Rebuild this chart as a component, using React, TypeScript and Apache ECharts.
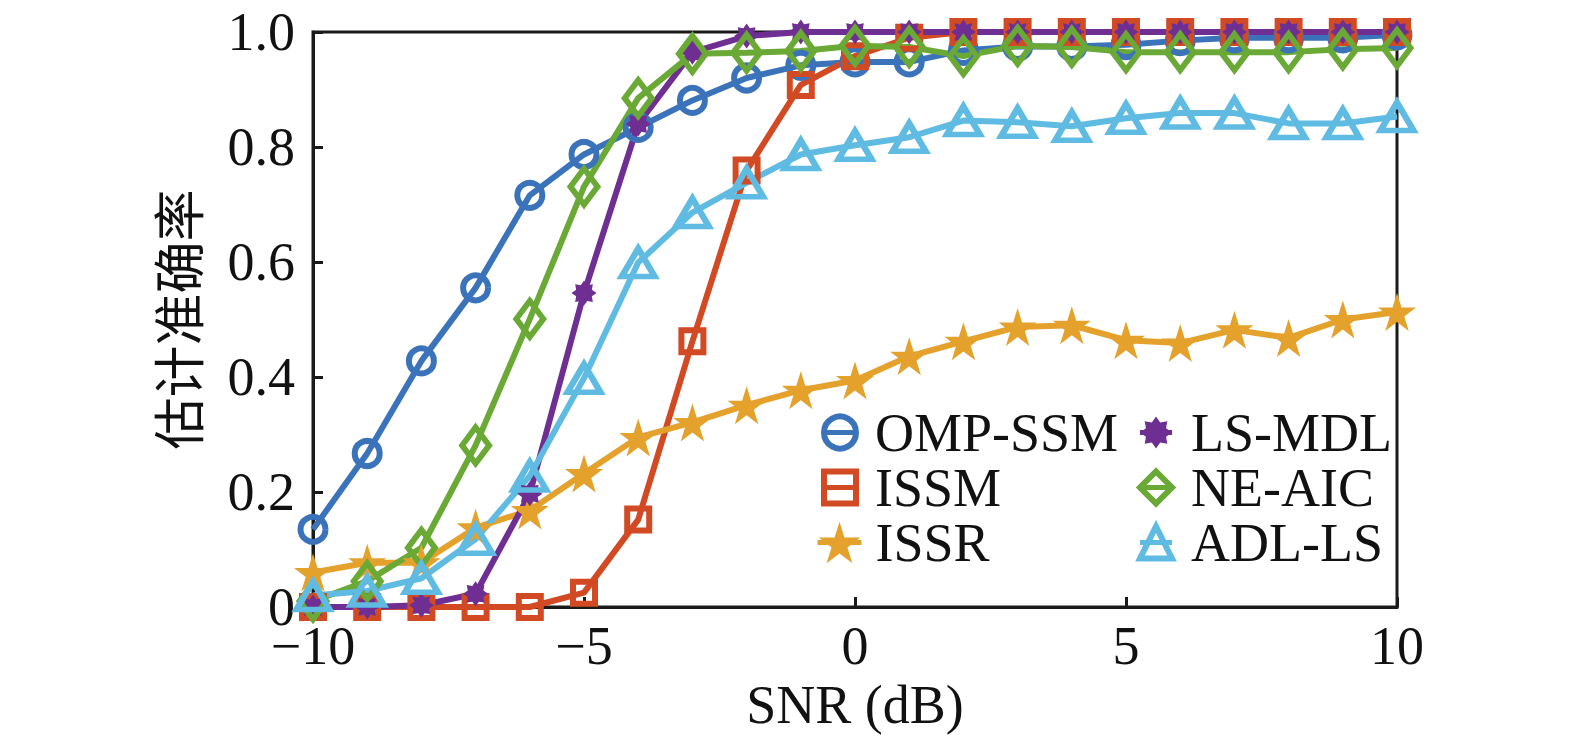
import React, { useEffect, useRef } from "react";
import * as echarts from "echarts";

const snr = [-10, -9, -8, -7, -6, -5, -4, -3, -2, -1, 0, 1, 2, 3, 4, 5, 6, 7, 8, 9, 10];
const ompSsm = [0.135, 0.267, 0.428, 0.555, 0.716, 0.787, 0.834, 0.881, 0.92, 0.942, 0.948, 0.948, 0.968, 0.975, 0.975, 0.978, 0.985, 0.99, 0.99, 0.99, 0.995];
const issm = [0, 0, 0, 0, 0, 0.025, 0.152, 0.462, 0.759, 0.908, 0.958, 0.99, 1, 1, 1, 1, 1, 1, 1, 1, 1];
const issr = [0.06, 0.077, 0.077, 0.138, 0.168, 0.232, 0.295, 0.321, 0.351, 0.377, 0.394, 0.436, 0.462, 0.487, 0.49, 0.464, 0.459, 0.482, 0.468, 0.5, 0.513];
const lsMdl = [0, 0, 0.003, 0.023, 0.197, 0.546, 0.84, 0.965, 0.993, 1, 1, 1, 1, 1, 1, 1, 1, 1, 1, 1, 1];
const neAic = [0.01, 0.045, 0.103, 0.281, 0.501, 0.731, 0.885, 0.962, 0.964, 0.967, 0.976, 0.974, 0.958, 0.976, 0.974, 0.965, 0.965, 0.965, 0.965, 0.97, 0.972];
const adlLs = [0.02, 0.028, 0.05, 0.118, 0.228, 0.398, 0.599, 0.686, 0.738, 0.787, 0.803, 0.817, 0.846, 0.843, 0.836, 0.85, 0.859, 0.859, 0.841, 0.841, 0.853];
const seriesNames = ["OMP-SSM", "ISSM", "ISSR", "LS-MDL", "NE-AIC", "ADL-LS"];
const xTicks = [-10, -5, 0, 5, 10];
const yTicks = [0, 0.2, 0.4, 0.6, 0.8, 1.0];

const FONT = "'Liberation Serif', 'Times New Roman', serif";

function polyPath(n: number, rOut: number, rIn: number, start: number) {
  const pts: string[] = [];
  for (let k = 0; k < n * 2; k++) {
    const r = k % 2 === 0 ? rOut : rIn;
    const a = ((start + (k * 180) / n) * Math.PI) / 180;
    pts.push((50 + r * Math.cos(a)).toFixed(2) + "," + (50 + r * Math.sin(a)).toFixed(2));
  }
  return "path://M" + pts.join(" L") + " Z";
}
const starPath = polyPath(5, 50, 19.1, -90);
const asteriskPath = polyPath(8, 50, 34, 0);
const filledSeries = ["ISSR", "LS-MDL"];

export default function App() {
  const ref = useRef<HTMLDivElement>(null);
  useEffect(() => {
    const chart = echarts.init(ref.current!, undefined, { renderer: "svg" });
    const mk = (
      name: string,
      values: number[],
      color: string,
      symbol: string,
      size: number | number[],
      filled: boolean
    ) => ({
      name,
      type: "line",
      data: snr.map((x, i) => [x, values[i]]),
      symbol,
      symbolSize: size,
      showAllSymbol: true,
      lineStyle: { color, width: 6 },
      itemStyle: filled
        ? { color, borderColor: color, borderWidth: 0 }
        : { color: "rgba(255,255,255,0)", borderColor: color, borderWidth: 6 },
      emphasis: { disabled: true },
      clip: false,
    });
    const legendData = (names: string[]) =>
      names.map((n) => ({
        name: n,
        itemStyle: { borderWidth: filledSeries.includes(n) ? 0 : 6 },
        lineStyle: { width: 5 },
      }));
    const legendCommon = {
      orient: "vertical",
      itemGap: 0,
      itemWidth: 32,
      itemHeight: 40,
      selectedMode: false,
      textStyle: { fontFamily: FONT, fontSize: 54, color: "#111", lineHeight: 55, padding: [0, 0, 0, 14] },
    };
    chart.setOption({
      animation: false,
      backgroundColor: "#fff",
      grid: { left: 313, top: 32, right: 178, bottom: 138, show: true, borderColor: "#1a1a1a", borderWidth: 3 },
      legend: [
        { ...legendCommon, data: legendData(seriesNames.slice(0, 2)), left: 816, top: 400 },
        {
          ...legendCommon,
          itemWidth: 44,
          itemHeight: 52,
          textStyle: { ...legendCommon.textStyle, padding: [0, 0, 0, 9] },
          data: legendData(seriesNames.slice(2, 3)),
          left: 810,
          top: 510,
        },
        { ...legendCommon, data: legendData(seriesNames.slice(3)), left: 1132, top: 400 },
      ],
      xAxis: {
        type: "value",
        min: -10,
        max: 10,
        interval: 5,
        name: "SNR (dB)",
        nameLocation: "middle",
        nameGap: 71,
        nameTextStyle: { fontFamily: FONT, fontSize: 54, color: "#111" },
        axisLine: { onZero: false, lineStyle: { color: "#1a1a1a", width: 3 } },
        axisTick: { inside: true, length: 10, lineStyle: { color: "#1a1a1a", width: 3 } },
        axisLabel: {
          margin: 20,
          lineHeight: 38,
          fontFamily: FONT,
          fontSize: 54,
          color: "#111",
          formatter: (v: number) => (xTicks.includes(v) ? (v < 0 ? "\u2212" + Math.abs(v) : String(v)) : ""),
        },
        splitLine: { show: false },
      },
      yAxis: {
        type: "value",
        min: 0,
        max: 1,
        interval: 0.2,
        name: "估计准确率",
        nameLocation: "middle",
        nameGap: 111,
        nameRotate: 90,
        nameTextStyle: { fontFamily: "'Noto Sans CJK SC', sans-serif", fontSize: 52, color: "#111" },
        axisLine: { onZero: false, lineStyle: { color: "#1a1a1a", width: 3 } },
        axisTick: { inside: true, length: 10, lineStyle: { color: "#1a1a1a", width: 3 } },
        axisLabel: {
          margin: 18,
          lineHeight: 38,
          fontFamily: FONT,
          fontSize: 54,
          color: "#111",
          formatter: (v: number) => {
            const t = yTicks.find((y) => Math.abs(y - v) < 1e-6);
            return t === undefined ? "" : t === 0 ? "0" : t.toFixed(1);
          },
        },
        splitLine: { show: false },
      },
      series: [
        mk(seriesNames[0], ompSsm, "#3b73bb", "circle", 25, false),
        mk(seriesNames[1], issm, "#d24a23", "rect", 22, false),
        mk(seriesNames[2], issr, "#e4a22c", starPath, 38, true),
        mk(seriesNames[3], lsMdl, "#6f2f92", asteriskPath, 25, true),
        mk(seriesNames[4], neAic, "#6aa935", "diamond", [27, 36], false),
        mk(seriesNames[5], adlLs, "#5fbbe2", "triangle", [33, 28], false),
      ],
    });
    return () => chart.dispose();
  }, []);
  return <div ref={ref} style={{ position: "absolute", left: 0, top: 0, width: 1575, height: 745 }} />;
}
